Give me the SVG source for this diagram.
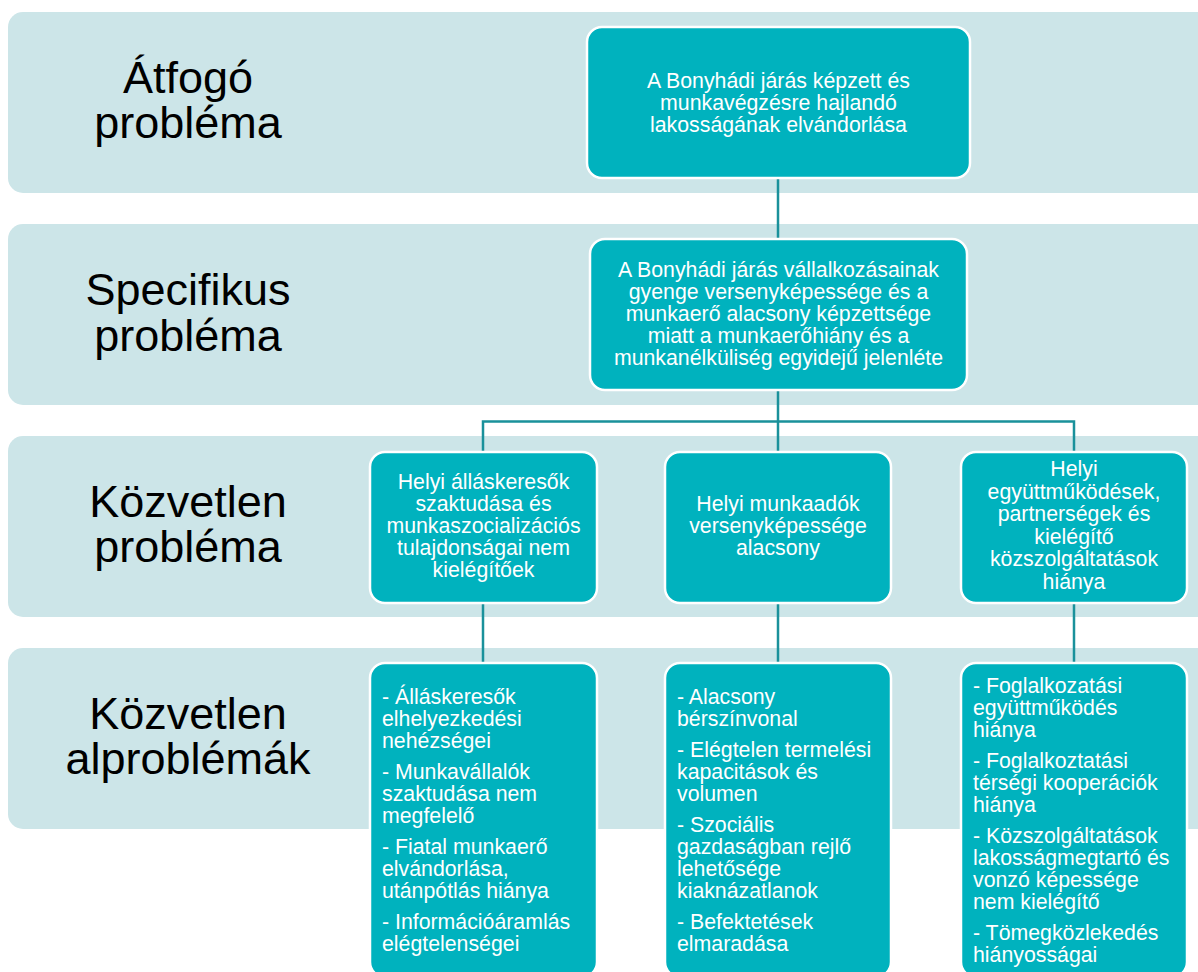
<svg xmlns="http://www.w3.org/2000/svg" width="1198" height="972" viewBox="0 0 1198 972">
<style>
.band{fill:#CCE5E8;}
.box{fill:#00B2BE;stroke:#FFFFFF;stroke-width:2.5;}
.lbl{font-family:"Liberation Sans",Arial,sans-serif;font-size:45px;fill:#000000;text-anchor:middle;}
.t{font-family:"Liberation Sans",Arial,sans-serif;font-size:21.3px;fill:#FFFFFF;}
.c{text-anchor:middle;}
.conn{fill:none;stroke:#1A919B;stroke-width:2.5;}
</style>
<rect width="1198" height="972" fill="#FFFFFF"/>
<g id="bands">
<rect class="band" x="8" y="12" width="1205" height="181" rx="15"/>
<rect class="band" x="8" y="224" width="1205" height="181" rx="15"/>
<rect class="band" x="8" y="436" width="1205" height="181" rx="15"/>
<rect class="band" x="8" y="648" width="1205" height="181" rx="15"/>
</g>
<g id="labels">
<text class="lbl" x="188" y="93">Átfogó<tspan x="188" y="138">probléma</tspan></text>
<text class="lbl" x="188" y="305">Specifikus<tspan x="188" y="351">probléma</tspan></text>
<text class="lbl" x="188" y="517">Közvetlen<tspan x="188" y="562">probléma</tspan></text>
<text class="lbl" x="188" y="729">Közvetlen<tspan x="188" y="774">alproblémák</tspan></text>
</g>
<g id="connectors">
<line class="conn" x1="778" y1="178" x2="778" y2="239"/>
<line class="conn" x1="778" y1="390" x2="778" y2="452"/>
<polyline class="conn" points="483,452 483,421.5 1074,421.5 1074,452"/>
<line class="conn" x1="483" y1="603" x2="483" y2="663"/>
<line class="conn" x1="778" y1="603" x2="778" y2="663"/>
<line class="conn" x1="1074" y1="603" x2="1074" y2="663"/>
</g>
<g id="node-atfogo">
<rect class="box" x="587" y="27" width="383" height="151" rx="15"/>
<text class="t c" x="778.5"><tspan x="778.5" y="88">A Bonyhádi járás képzett és</tspan><tspan x="778.5" y="110">munkavégzésre hajlandó</tspan><tspan x="778.5" y="132">lakosságának elvándorlása</tspan></text>
</g>
<g id="node-specifikus">
<rect class="box" x="590" y="239" width="377" height="151" rx="15"/>
<text class="t c" x="778.5"><tspan x="778.5" y="277">A Bonyhádi járás vállalkozásainak</tspan><tspan x="778.5" y="299">gyenge versenyképessége és a</tspan><tspan x="778.5" y="321">munkaerő alacsony képzettsége</tspan><tspan x="778.5" y="343">miatt a munkaerőhiány és a</tspan><tspan x="778.5" y="365">munkanélküliség egyidejű jelenléte</tspan></text>
</g>
<g id="node-kozvetlen-1">
<rect class="box" x="370" y="452" width="227" height="151" rx="15"/>
<text class="t c" x="483.5"><tspan x="483.5" y="489">Helyi álláskeresők</tspan><tspan x="483.5" y="511">szaktudása és</tspan><tspan x="483.5" y="533">munkaszocializációs</tspan><tspan x="483.5" y="555">tulajdonságai nem</tspan><tspan x="483.5" y="577">kielégítőek</tspan></text>
</g>
<g id="node-kozvetlen-2">
<rect class="box" x="665" y="452" width="226" height="151" rx="15"/>
<text class="t c" x="778"><tspan x="778" y="511">Helyi munkaadók</tspan><tspan x="778" y="533">versenyképessége</tspan><tspan x="778" y="555">alacsony</tspan></text>
</g>
<g id="node-kozvetlen-3">
<rect class="box" x="961" y="452" width="226" height="151" rx="15"/>
<text class="t c" x="1074"><tspan x="1074" y="476">Helyi</tspan><tspan x="1074" y="498.5">együttműködések,</tspan><tspan x="1074" y="521">partnerségek és</tspan><tspan x="1074" y="543.5">kielégítő</tspan><tspan x="1074" y="566">közszolgáltatások</tspan><tspan x="1074" y="588.5">hiánya</tspan></text>
</g>
<g id="node-alproblema-1">
<rect class="box" x="370" y="663" width="227" height="314" rx="15"/>
<text class="t" x="382"><tspan x="382" y="704">- Álláskeresők</tspan><tspan x="382" y="726">elhelyezkedési</tspan><tspan x="382" y="748">nehézségei</tspan><tspan x="382" y="779">- Munkavállalók</tspan><tspan x="382" y="801">szaktudása nem</tspan><tspan x="382" y="823">megfelelő</tspan><tspan x="382" y="854">- Fiatal munkaerő</tspan><tspan x="382" y="876">elvándorlása,</tspan><tspan x="382" y="898">utánpótlás hiánya</tspan><tspan x="382" y="929">- Információáramlás</tspan><tspan x="382" y="951">elégtelenségei</tspan></text>
</g>
<g id="node-alproblema-2">
<rect class="box" x="665" y="663" width="226" height="314" rx="15"/>
<text class="t" x="677"><tspan x="677" y="704">- Alacsony</tspan><tspan x="677" y="726">bérszínvonal</tspan><tspan x="677" y="757">- Elégtelen termelési</tspan><tspan x="677" y="779">kapacitások és</tspan><tspan x="677" y="801">volumen</tspan><tspan x="677" y="832">- Szociális</tspan><tspan x="677" y="854">gazdaságban rejlő</tspan><tspan x="677" y="876">lehetősége</tspan><tspan x="677" y="898">kiaknázatlanok</tspan><tspan x="677" y="929">- Befektetések</tspan><tspan x="677" y="951">elmaradása</tspan></text>
</g>
<g id="node-alproblema-3">
<rect class="box" x="961" y="663" width="226" height="314" rx="15"/>
<text class="t" x="973"><tspan x="973" y="693">- Foglalkozatási</tspan><tspan x="973" y="715">együttműködés</tspan><tspan x="973" y="737">hiánya</tspan><tspan x="973" y="768">- Foglalkoztatási</tspan><tspan x="973" y="790">térségi kooperációk</tspan><tspan x="973" y="812">hiánya</tspan><tspan x="973" y="843">- Közszolgáltatások</tspan><tspan x="973" y="865">lakosságmegtartó és</tspan><tspan x="973" y="887">vonzó képessége</tspan><tspan x="973" y="909">nem kielégítő</tspan><tspan x="973" y="940">- Tömegközlekedés</tspan><tspan x="973" y="962">hiányosságai</tspan></text>
</g>
</svg>
